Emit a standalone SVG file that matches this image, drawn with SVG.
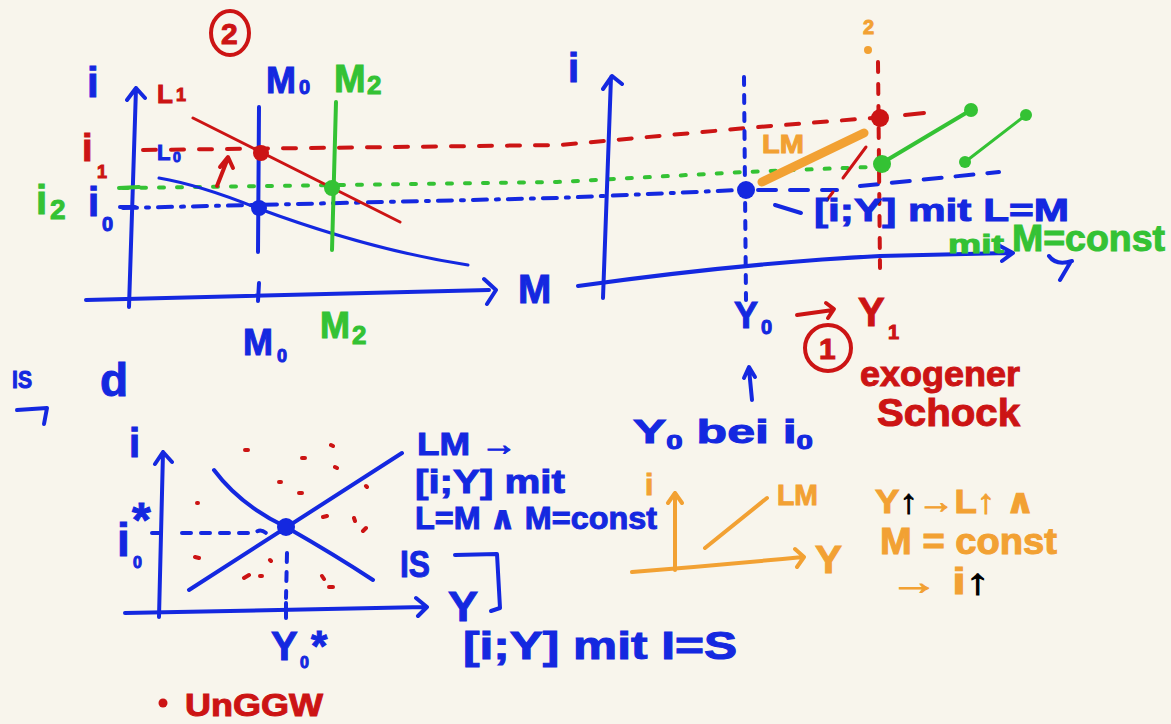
<svg xmlns="http://www.w3.org/2000/svg" width="1171" height="724" viewBox="0 0 1171 724">
<defs>
<style>
.s{fill:none;stroke-linecap:round;stroke-linejoin:round}
.b{stroke:#1428e0}.r{stroke:#cc1414}.g{stroke:#34c234}.o{stroke:#f2a133}
.w4{stroke-width:4}.w3{stroke-width:3}
.t{font-family:"Liberation Sans","DejaVu Sans",Arial,sans-serif;font-weight:bold;stroke-width:1}
.tb{fill:#1428e0;stroke:#1428e0}.tr{fill:#cc1414;stroke:#cc1414}.tg{fill:#34c234;stroke:#34c234}.to{fill:#f2a133;stroke:#f2a133}
.db{fill:#1428e0}.dr{fill:#cc1414}.dg{fill:#34c234}.do{fill:#f2a133}
.blk{fill:#000;stroke:#000}
</style>
</defs>
<rect width="1171" height="724" fill="#f8f5ec"/>

<g id="connectors">
<!-- top-left chart axes -->
<path class="s b w4" d="M86,300 L489,290 M484,279 L496,290 L487,304"/>
<path class="s b w4" d="M129,307 L136,88 M127,100 L136,88 L145,98"/>
<path class="s b w4" d="M259,283 L258,301"/>
<!-- guide lines extending across -->
<path class="s r w4" d="M143,150 L560,145 L758,127 L872,118" stroke-dasharray="13 15"/>
<path class="s r w4" d="M905,115 L924,113"/>
<path class="s g w4" d="M123,188 L557,182 L744,172 L870,167" stroke-dasharray="5 13"/>
<path class="s b w4" d="M123,208 L557,198 L740,190" stroke-dasharray="14 9 3 9"/>
<path class="s b w4" d="M758,190 L837,190 M860,186 L999,172" stroke-dasharray="18 14"/>
<path class="s b w4" d="M775,205 L801,213"/>
<path class="s g w4" d="M119,188 L139,187"/>
<path class="s b w4" d="M120,207 L135,207"/>
<!-- curves top-left -->
<path class="s r w3" d="M193,118 Q300,172 400,222"/>
<path class="s b w3" d="M159,178 Q200,185 257,208 Q370,250 468,265"/>
<path class="s b w4" d="M259,107 L258,252"/>
<path class="s g w4" d="M336,102 L332,250"/>
<path class="s r w4" d="M217,186 L228,158 M220,167 L228,157 L233,168"/>

<!-- top-right chart -->
<path class="s b w4" d="M578,286 Q744,263 880,256 L1008,253 M1000,246 L1013,253 L1002,261"/>
<path class="s b w4" d="M603,298 L611,77 M603,89 L612,76 L622,84"/>
<path class="s b w4" d="M744,77 L746,300" stroke-dasharray="8 10"/>
<path class="s r w4" d="M878,62 L880,268" stroke-dasharray="10 12"/>
<path class="s r w3" d="M866,147 L843,178 M833,192 L827,200"/>
<path class="s o" stroke-width="9" d="M762,182 L864,133"/>
<path class="s g w4" d="M882,163 L971,110"/>
<path class="s g w3" d="M965,162 L1026,115"/>
<path class="s b w4" d="M1049,256 Q1056,266 1072,261 M1070,263 L1060,280"/>
<path class="s r w4" d="M797,315 L833,310 M826,303 L834,309 L828,318"/>
<path class="s b w4" d="M752,400 L749,369 M744,378 L749,367 L755,377"/>

<!-- bottom-left chart -->
<path class="s b w4" d="M17,410 L47,408 L44,424"/>
<path class="s b w4" d="M159,617 L163,452 M155,464 L163,452 L172,462"/>
<path class="s b w4" d="M125,613 L425,607 M416,598 L427,607 L418,616"/>
<path class="s b w4" d="M152,533 L160,533 M286,603 L286,618"/>
<path class="s b w4" d="M182,533 L255,533 Q260,528 266,533" stroke-dasharray="9 10"/>
<path class="s b w4" d="M287,553 L286,598" stroke-dasharray="9 10"/>
<path class="s b w4" d="M214,470 Q240,505 286,527 Q335,555 373,580"/>
<path class="s b w4" d="M189,590 L402,453"/>
<path class="s b w4" d="M455,555 L497,554 L500,608 L491,611"/>
<g class="s r w4">
<path d="M245,450 L248,450 M302,458 L305,458 M331,445 L333,446 M335,467 L337,468 M279,482 L281,482 M299,493 L302,493 M366,486 L367,487 M197,503 L198,503 M323,517 L327,516 M354,518 L355,521 M363,531 L366,528 M195,557 L199,558 M270,560 L271,561 M244,578 L249,575 M260,576 L262,576 M322,576 L324,579 M329,587 L333,587"/>
</g>

<!-- orange chart -->
<path class="s o w4" d="M675,570 L675,493 M668,503 L675,493 L682,503"/>
<path class="s o w4" d="M632,572 Q720,565 803,557 M795,549 L804,557 L797,567"/>
<path class="s o w4" d="M705,548 L767,498"/>
</g>

<g id="node-tl-chart">
<circle class="dr" cx="261" cy="153" r="8"/>
<circle class="dg" cx="332" cy="188" r="8"/>
<circle class="db" cx="259" cy="208" r="8"/>
<ellipse class="s r w4" cx="230" cy="33" rx="19" ry="22"/>
<text class="t tr" x="221" y="44" font-size="30">2</text>
<text class="t tb" x="87" y="97" font-size="42">i</text>
<text class="t tr" x="157" y="103" font-size="26">L</text>
<text class="t tr" x="176" y="101" font-size="18">1</text>
<text class="t tb" x="157" y="160" font-size="22">L</text>
<text class="t tb" x="173" y="162" font-size="14">0</text>
<text class="t tb" x="266" y="93" font-size="36">M</text>
<text class="t tb" x="299" y="94" font-size="20">0</text>
<text class="t tg" x="334" y="92" font-size="38">M</text>
<text class="t tg" x="367" y="94" font-size="26">2</text>
<text class="t tr" x="82" y="161" font-size="38">i</text>
<text class="t tr" x="97" y="178" font-size="18">1</text>
<text class="t tg" x="36" y="214" font-size="40">i</text>
<text class="t tg" x="50" y="219" font-size="28">2</text>
<text class="t tb" x="88" y="216" font-size="40">i</text>
<text class="t tb" x="102" y="231" font-size="20">0</text>
<text class="t tb" x="518" y="303" font-size="40">M</text>
<text class="t tb" x="243" y="355" font-size="36">M</text>
<text class="t tb" x="277" y="362" font-size="18">0</text>
<text class="t tg" x="320" y="338" font-size="36">M</text>
<text class="t tg" x="352" y="344" font-size="26">2</text>
</g>

<g id="node-tr-chart">
<circle class="do" cx="868" cy="50" r="4"/>
<circle class="dr" cx="880" cy="118" r="9"/>
<circle class="dg" cx="882" cy="164" r="9"/>
<circle class="dg" cx="971" cy="110" r="7"/>
<circle class="dg" cx="965" cy="162" r="6"/>
<circle class="dg" cx="1026" cy="115" r="6"/>
<circle class="db" cx="746" cy="190" r="9"/>
<text class="t to" x="863" y="34" font-size="20">2</text>
<text class="t tb" x="568" y="82" font-size="40">i</text>
<text class="t to" x="762" y="153" font-size="26" textLength="42" lengthAdjust="spacingAndGlyphs">LM</text>
<text class="t tb" x="814" y="221" font-size="32" textLength="255" lengthAdjust="spacingAndGlyphs">[i;Y] mit L=M</text>
<text class="t tg" x="948" y="253" font-size="26" textLength="56" lengthAdjust="spacingAndGlyphs">mit</text>
<text class="t tg" x="1012" y="251" font-size="36" textLength="153" lengthAdjust="spacingAndGlyphs">M=const</text>
<text class="t tb" x="734" y="328" font-size="36">Y</text>
<text class="t tb" x="761" y="334" font-size="20">0</text>
<text class="t tr" x="858" y="326" font-size="40">Y</text>
<text class="t tr" x="888" y="339" font-size="20">1</text>
</g>

<g id="node-shock">
<circle class="s r w4" cx="828" cy="348" r="23"/>
<text class="t tr" x="819" y="359" font-size="30">1</text>
<text class="t tr" x="860" y="386" font-size="35" textLength="160" lengthAdjust="spacingAndGlyphs">exogener</text>
<text class="t tr" x="877" y="426" font-size="38" textLength="143" lengthAdjust="spacingAndGlyphs">Schock</text>
</g>

<g id="node-y0">
<text class="t tb" x="633" y="443" font-size="34" textLength="180" lengthAdjust="spacingAndGlyphs">Y<tspan font-size="20" dy="6">0</tspan><tspan dy="-6"> bei i</tspan><tspan font-size="20" dy="6">0</tspan></text>
</g>

<g id="node-bl-chart">
<text class="t tb" x="12" y="388" font-size="24" textLength="20" lengthAdjust="spacingAndGlyphs">IS</text>
<text class="t tb" x="100" y="396" font-size="46">d</text>
<text class="t tb" x="129" y="457" font-size="40">i</text>
<text class="t tb" x="117" y="556" font-size="46">i</text>
<text class="t tb" x="132" y="536" font-size="48">*</text>
<text class="t tb" x="133" y="568" font-size="16">0</text>
<circle class="db" cx="286" cy="527" r="9"/>
<text class="t tb" x="271" y="660" font-size="40">Y</text>
<text class="t tb" x="300" y="668" font-size="16">0</text>
<text class="t tb" x="311" y="660" font-size="42">*</text>
<text class="t tb" x="417" y="455" font-size="32" textLength="100" lengthAdjust="spacingAndGlyphs">LM →</text>
<text class="t tb" x="415" y="493" font-size="34" textLength="150" lengthAdjust="spacingAndGlyphs">[i;Y] mit</text>
<text class="t tb" x="415" y="529" font-size="32" textLength="242" lengthAdjust="spacingAndGlyphs">L=M ∧ M=const</text>
<text class="t tb" x="400" y="577" font-size="36" textLength="30" lengthAdjust="spacingAndGlyphs">IS</text>
<text class="t tb" x="448" y="621" font-size="42" textLength="30" lengthAdjust="spacingAndGlyphs">Y</text>
<text class="t tb" x="463" y="659" font-size="38" textLength="274" lengthAdjust="spacingAndGlyphs">[i;Y] mit I=S</text>
<circle class="dr" cx="163" cy="703" r="4.5"/>
<text class="t tr" x="185" y="716" font-size="32" textLength="138" lengthAdjust="spacingAndGlyphs">UnGGW</text>
</g>

<g id="node-orange">
<text class="t to" x="645" y="495" font-size="30">i</text>
<text class="t to" x="777" y="505" font-size="30" textLength="41" lengthAdjust="spacingAndGlyphs">LM</text>
<text class="t to" x="815" y="573" font-size="38" textLength="27" lengthAdjust="spacingAndGlyphs">Y</text>
<text class="t to" x="875" y="513" font-size="34" textLength="160" lengthAdjust="spacingAndGlyphs">Y<tspan class="blk">↑</tspan>→L↑ ∧</text>
<text class="t to" x="880" y="554" font-size="36" textLength="177" lengthAdjust="spacingAndGlyphs">M = const</text>
<text class="t to" x="890" y="594" font-size="36" textLength="100" lengthAdjust="spacingAndGlyphs">→ i<tspan class="blk">↑</tspan></text>
</g>
</svg>
